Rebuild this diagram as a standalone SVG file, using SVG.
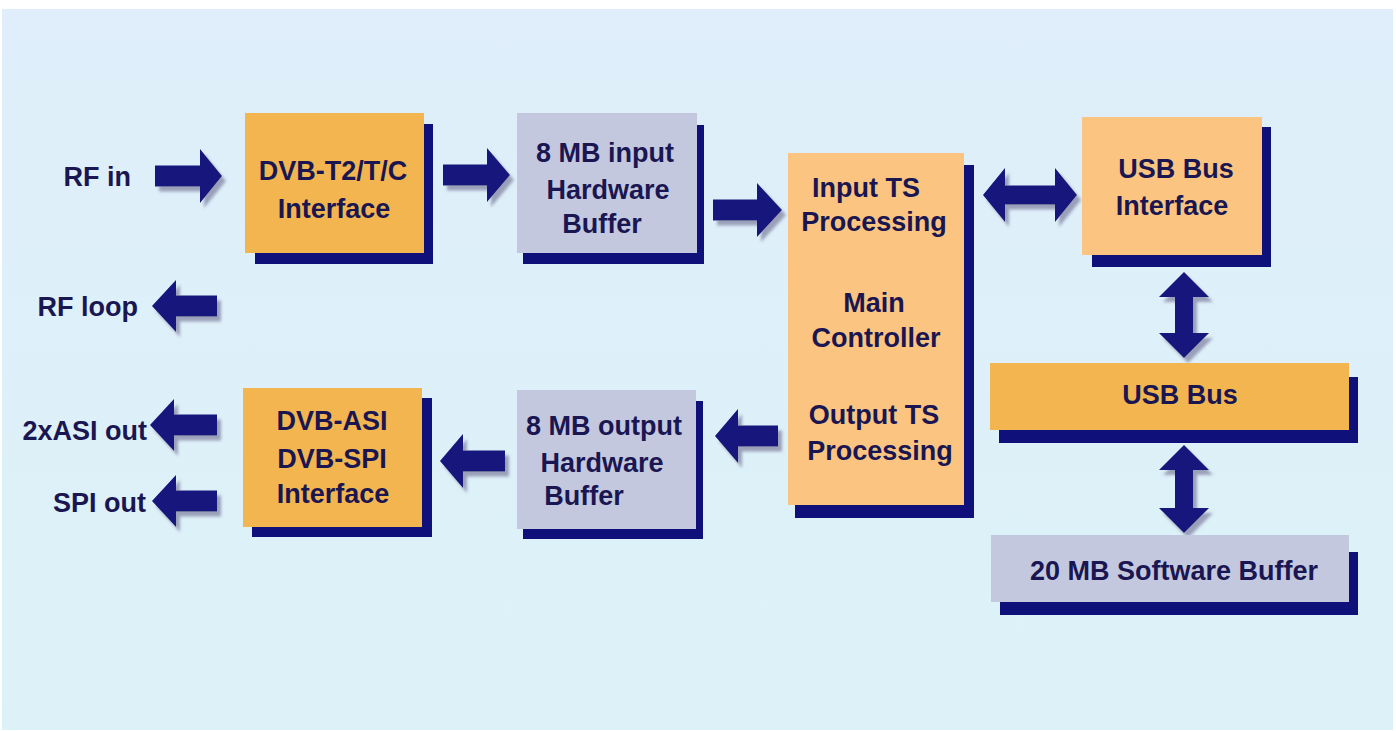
<svg xmlns="http://www.w3.org/2000/svg" width="1396" height="731" viewBox="0 0 1396 731">
<defs>
<style>
.bg{fill:#ffffff}
.sh{fill:#10107a}
.orange{fill:#f2b54f}
.peach{fill:#fbc581}
.grey{fill:#c4c8de}
.t{font-family:"Liberation Sans",Arial,sans-serif;font-weight:bold;font-size:27px;fill:#1a1652;text-anchor:middle}
.l{font-family:"Liberation Sans",Arial,sans-serif;font-weight:bold;font-size:27px;fill:#1a1652;text-anchor:end}
.arrow{fill:#14147c;filter:url(#ds)}
</style>
<linearGradient id="panelg" x1="0" y1="0" x2="0" y2="1">
<stop offset="0" stop-color="#dfeefa"/>
<stop offset="1" stop-color="#dcf2f8"/>
</linearGradient>
<filter id="ds" x="-20%" y="-20%" width="150%" height="150%">
<feDropShadow dx="4" dy="5" stdDeviation="1.5" flood-color="#8e92ad" flood-opacity="0.85"/>
</filter>
</defs>
<rect class="bg" x="0" y="0" width="1396" height="731"/>
<rect x="2" y="9" width="1391" height="721" fill="url(#panelg)"/>

<g id="connectors">
<polygon id="c-rfin" class="arrow" points="155,165.5 200,165.5 200,149 222,176 200,203 200,186.5 155,186.5"/>
<polygon id="c-dvb-inbuf" class="arrow" points="443,164.5 487,164.5 487,148 510,175 487,202 487,185.5 443,185.5"/>
<polygon id="c-inbuf-main" class="arrow" points="713,199.5 757,199.5 757,183 782,210 757,237 757,220.5 713,220.5"/>
<polygon id="c-main-outbuf" class="arrow" points="778,425.5 738,425.5 738,409 715,436 738,463 738,446.5 778,446.5"/>
<polygon id="c-outbuf-asi" class="arrow" points="505,450.5 463,450.5 463,434 440,461 463,488 463,471.5 505,471.5"/>
<polygon id="c-rfloop" class="arrow" points="217,295.5 176,295.5 176,280 152,306 176,332 176,316.5 217,316.5"/>
<polygon id="c-asiout" class="arrow" points="217,414.5 174,414.5 174,399 150,425 174,451 174,435.5 217,435.5"/>
<polygon id="c-spiout" class="arrow" points="217,490.5 176,490.5 176,475 152,501 176,527 176,511.5 217,511.5"/>
<polygon id="c-main-usbif" class="arrow" points="983,195 1005,168 1005,185.5 1055,185.5 1055,168 1077,195 1055,222 1055,204.5 1005,204.5 1005,222"/>
<polygon id="c-usbif-bus" class="arrow" points="1184,272 1209,297 1193,297 1193,333 1209,333 1184,358 1159,333 1175,333 1175,297 1159,297"/>
<polygon id="c-bus-swbuf" class="arrow" points="1184,445 1209,470 1193,470 1193,508 1209,508 1184,533 1159,508 1175,508 1175,470 1159,470"/>
</g>

<g id="labels">
<text class="l" x="131" y="186">RF in</text>
<text class="l" x="138" y="316">RF loop</text>
<text class="l" x="147" y="440">2xASI out</text>
<text class="l" x="146" y="512">SPI out</text>
</g>

<g id="dvbt2">
<rect class="sh" x="255" y="124" width="178" height="140"/>
<rect class="orange" x="245" y="113" width="179" height="140"/>
<text class="t" x="333" y="180">DVB-T2/T/C</text>
<text class="t" x="334" y="218">Interface</text>
</g>

<g id="inbuf">
<rect class="sh" x="523" y="125" width="181" height="139"/>
<rect class="grey" x="517" y="113" width="180" height="140"/>
<text class="t" x="605" y="162">8 MB input</text>
<text class="t" x="608" y="199">Hardware</text>
<text class="t" x="602" y="233">Buffer</text>
</g>

<g id="main">
<rect class="sh" x="795" y="165" width="179" height="353"/>
<rect class="peach" x="788" y="153" width="176" height="352"/>
<text class="t" x="866" y="197">Input TS</text>
<text class="t" x="874" y="231">Processing</text>
<text class="t" x="874" y="312">Main</text>
<text class="t" x="876" y="347">Controller</text>
<text class="t" x="874" y="424">Output TS</text>
<text class="t" x="880" y="460">Processing</text>
</g>

<g id="outbuf">
<rect class="sh" x="523" y="401" width="180" height="138"/>
<rect class="grey" x="517" y="390" width="179" height="139"/>
<text class="t" x="604" y="435">8 MB output</text>
<text class="t" x="602" y="472">Hardware</text>
<text class="t" x="584" y="505">Buffer</text>
</g>

<g id="dvbasi">
<rect class="sh" x="252" y="398" width="180" height="139"/>
<rect class="orange" x="243" y="388" width="179" height="139"/>
<text class="t" x="332" y="430">DVB-ASI</text>
<text class="t" x="332" y="468">DVB-SPI</text>
<text class="t" x="333" y="503">Interface</text>
</g>

<g id="usbif">
<rect class="sh" x="1092" y="127" width="179" height="140"/>
<rect class="peach" x="1082" y="117" width="180" height="138"/>
<text class="t" x="1176" y="178">USB Bus</text>
<text class="t" x="1172" y="215">Interface</text>
</g>

<g id="usbbus">
<rect class="sh" x="999" y="377" width="359" height="66"/>
<rect class="orange" x="990" y="363" width="359" height="67"/>
<text class="t" x="1180" y="404">USB Bus</text>
</g>

<g id="swbuf">
<rect class="sh" x="1000" y="552" width="358" height="63"/>
<rect class="grey" x="991" y="535" width="358" height="67"/>
<text class="t" x="1174" y="580">20 MB Software Buffer</text>
</g>
</svg>
